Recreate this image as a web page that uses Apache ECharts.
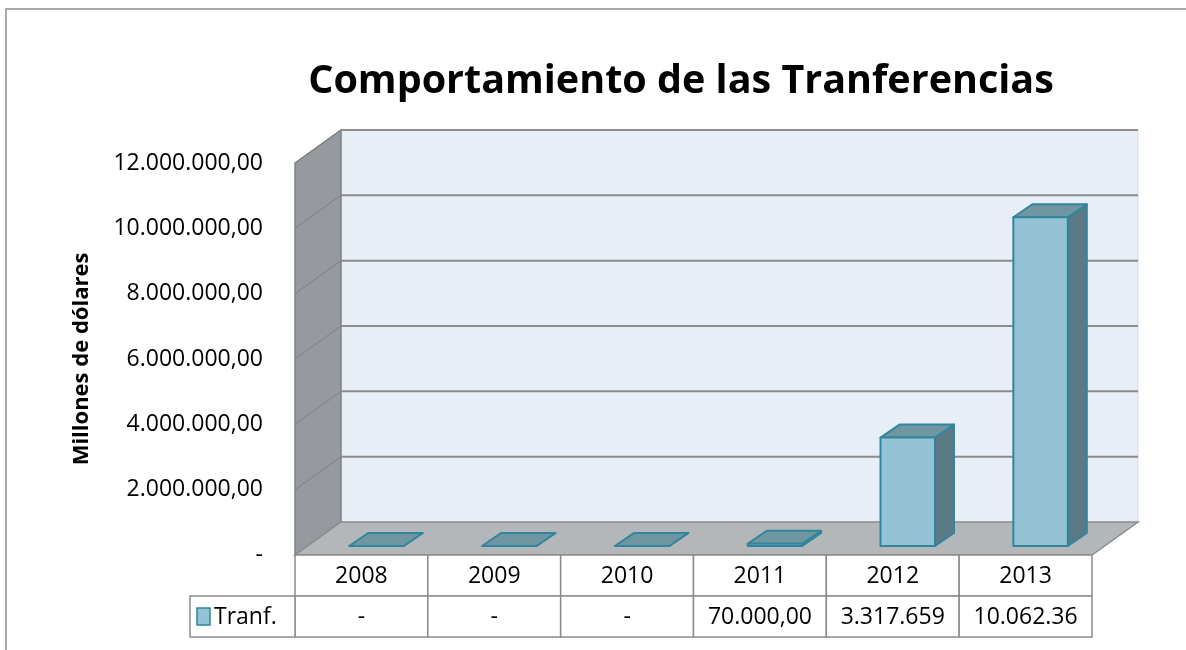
<!DOCTYPE html>
<html>
<head>
<meta charset="utf-8">
<script src="https://cdn.jsdelivr.net/npm/echarts@6/dist/echarts.min.js"></script>
<style>
  html, body { margin: 0; padding: 0; background: #fff; }
  #chart { width: 1186px; height: 650px; }
</style>
</head>
<body>
<div id="chart"></div>
<script>
  // data
  const years = ['2008', '2009', '2010', '2011', '2012', '2013'];
  const transfers = [0, 0, 0, 70000, 3317659, 10062360];
  const tableLabels = ['-', '-', '-', '70.000,00', '3.317.659', '10.062.36'];
  const yTicks = [0, 2000000, 4000000, 6000000, 8000000, 10000000, 12000000];
  const seriesName = 'Tranf.';

  // fake 3d geometry
  const depth = [46, -33];
  const barFront = [15, -9];
  const barDepth = [19, -13];
  const barRatio = 0.41;
  const FONT = '"Open Sans", "Noto Sans", sans-serif';

  function fmt(v) {
    if (v === 0) return '-';
    return String(v).replace(/\B(?=(\d{3})+(?!\d))/g, '.') + ',00';
  }

  function renderWalls(params, api) {
    const cs = params.coordSys;
    const x0 = cs.x, x1 = cs.x + cs.width;
    const yb = api.coord([0, 0])[1];
    const yt = api.coord([0, yTicks[yTicks.length - 1]])[1];
    const dx = depth[0], dy = depth[1];
    const children = [];
    children.push({type: 'rect', shape: {x: x0 + dx, y: yt + dy, width: cs.width, height: yb - yt},
      style: {fill: '#e8eef6', stroke: '#d6dce3', lineWidth: 1}});
    children.push({type: 'polygon', shape: {points: [[x0, yt], [x0 + dx, yt + dy], [x0 + dx, yb + dy], [x0, yb]]},
      style: {fill: '#96999d', stroke: '#808285', lineWidth: 1.5}});
    children.push({type: 'polygon', shape: {points: [[x0, yb], [x0 + dx, yb + dy], [x1 + dx, yb + dy], [x1, yb]]},
      style: {fill: '#b3b7ba', stroke: '#8c8c8c', lineWidth: 1.5}});
    yTicks.forEach(function (v) {
      if (v === 0) return;
      const y = api.coord([0, v])[1];
      children.push({type: 'line', shape: {x1: x0 + dx, y1: y + dy, x2: x1 + dx, y2: y + dy},
        style: {stroke: '#8c8c8c', lineWidth: 2}});
      children.push({type: 'line', shape: {x1: x0, y1: y, x2: x0 + dx, y2: y + dy},
        style: {stroke: '#7d8083', lineWidth: 1}});
    });
    return {type: 'group', children: children};
  }

  function renderBar(params, api) {
    const i = api.value(0), v = api.value(1);
    const base = api.coord([i, 0]);
    const top = api.coord([i, v]);
    const w = api.size([1, 0])[0] * barRatio;
    const xl = base[0] - w / 2 + barFront[0];
    const xr = xl + w;
    const yb = base[1] + barFront[1];
    const yt = top[1] + barFront[1];
    const dx = barDepth[0], dy = barDepth[1];
    const line = {stroke: '#31859c', lineWidth: 2, lineJoin: 'round'};
    const children = [
      {type: 'polygon', shape: {points: [[xr, yt], [xr + dx, yt + dy], [xr + dx, yb + dy], [xr, yb]]},
        style: Object.assign({fill: '#5b7a85'}, line)},
      {type: 'polygon', shape: {points: [[xl, yt], [xl + dx, yt + dy], [xr + dx, yt + dy], [xr, yt]]},
        style: Object.assign({fill: '#6f96a1'}, line)}
    ];
    if (yb - yt > 0.5) {
      children.push({type: 'rect', shape: {x: xl, y: yt, width: w, height: yb - yt},
        style: Object.assign({fill: '#93c3d4'}, line)});
    }
    return {type: 'group', children: children};
  }

  function cellText(text, x, y) {
    return {type: 'text', style: {text: text, x: x, y: y, align: 'center', verticalAlign: 'middle',
      textAlign: 'center', textVerticalAlign: 'middle', font: '23px ' + FONT, fill: '#000'}};
  }

  function renderTable(params, api) {
    const i = api.value(0);
    const cs = params.coordSys;
    const c = api.coord([i, 0]);
    const bw = api.size([1, 0])[0];
    const xl = c[0] - bw / 2;
    const y0 = cs.y + cs.height;
    const rowH = 41;
    const cell = {fill: '#fff', stroke: '#8c8c8c', lineWidth: 1.5};
    const children = [
      {type: 'rect', shape: {x: xl, y: y0, width: bw, height: rowH}, style: cell},
      {type: 'rect', shape: {x: xl, y: y0 + rowH, width: bw, height: rowH}, style: cell},
      cellText(years[i], c[0], y0 + rowH / 2 + 1),
      cellText(tableLabels[i], c[0], y0 + rowH * 1.5 + 1)
    ];
    if (i === 0) {
      children.push({type: 'rect', shape: {x: xl - 105, y: y0 + rowH, width: 105, height: rowH}, style: cell});
      children.push({type: 'rect', shape: {x: xl - 98, y: y0 + rowH + 12, width: 13, height: 17},
        style: {fill: '#93c3d4', stroke: '#31859c', lineWidth: 1.5}});
      children.push({type: 'text', style: {text: seriesName, x: xl - 81, y: y0 + rowH * 1.5 + 1,
        align: 'left', verticalAlign: 'middle', textAlign: 'left', textVerticalAlign: 'middle',
        font: '23px ' + FONT, fill: '#000'}});
    }
    return {type: 'group', children: children};
  }

  const chart = echarts.init(document.getElementById('chart'));
  chart.setOption({
    backgroundColor: '#fff',
    animation: false,
    title: {
      text: 'Comportamiento de las Tranferencias',
      left: 676,
      top: 57,
      textAlign: 'center',
      textStyle: {fontFamily: FONT, fontSize: 39.5, fontWeight: 'bold', color: '#000'}
    },
    graphic: [{
      type: 'rect', z: -10, silent: true,
      shape: {x: 6, y: 9, width: 1200, height: 700},
      style: {fill: 'none', stroke: '#8c8c8c', lineWidth: 1.5}
    }],
    grid: {left: 295, top: 163, width: 797, height: 392},
    xAxis: {
      type: 'category',
      data: years,
      axisLine: {show: false},
      axisTick: {show: false},
      axisLabel: {show: false}
    },
    yAxis: {
      type: 'value',
      min: yTicks[0],
      max: yTicks[yTicks.length - 1],
      interval: yTicks[1] - yTicks[0],
      name: 'Millones de dólares',
      nameLocation: 'middle',
      nameRotate: 90,
      nameGap: 202,
      nameTextStyle: {fontFamily: FONT, fontSize: 22, fontWeight: 'bold', color: '#000'},
      axisLine: {show: false},
      axisTick: {show: false},
      splitLine: {show: false},
      axisLabel: {formatter: fmt, fontFamily: FONT, fontSize: 23, color: '#000', margin: 32}
    },
    series: [
      {type: 'custom', name: 'walls', renderItem: renderWalls, data: [[0, 0]], z: 1, silent: true},
      {type: 'custom', name: seriesName, renderItem: renderBar,
        data: transfers.map(function (v, i) { return [i, v]; }), z: 2},
      {type: 'custom', name: 'table', renderItem: renderTable,
        data: years.map(function (y, i) { return [i, 0]; }), z: 3, silent: true}
    ]
  });
</script>
</body>
</html>
